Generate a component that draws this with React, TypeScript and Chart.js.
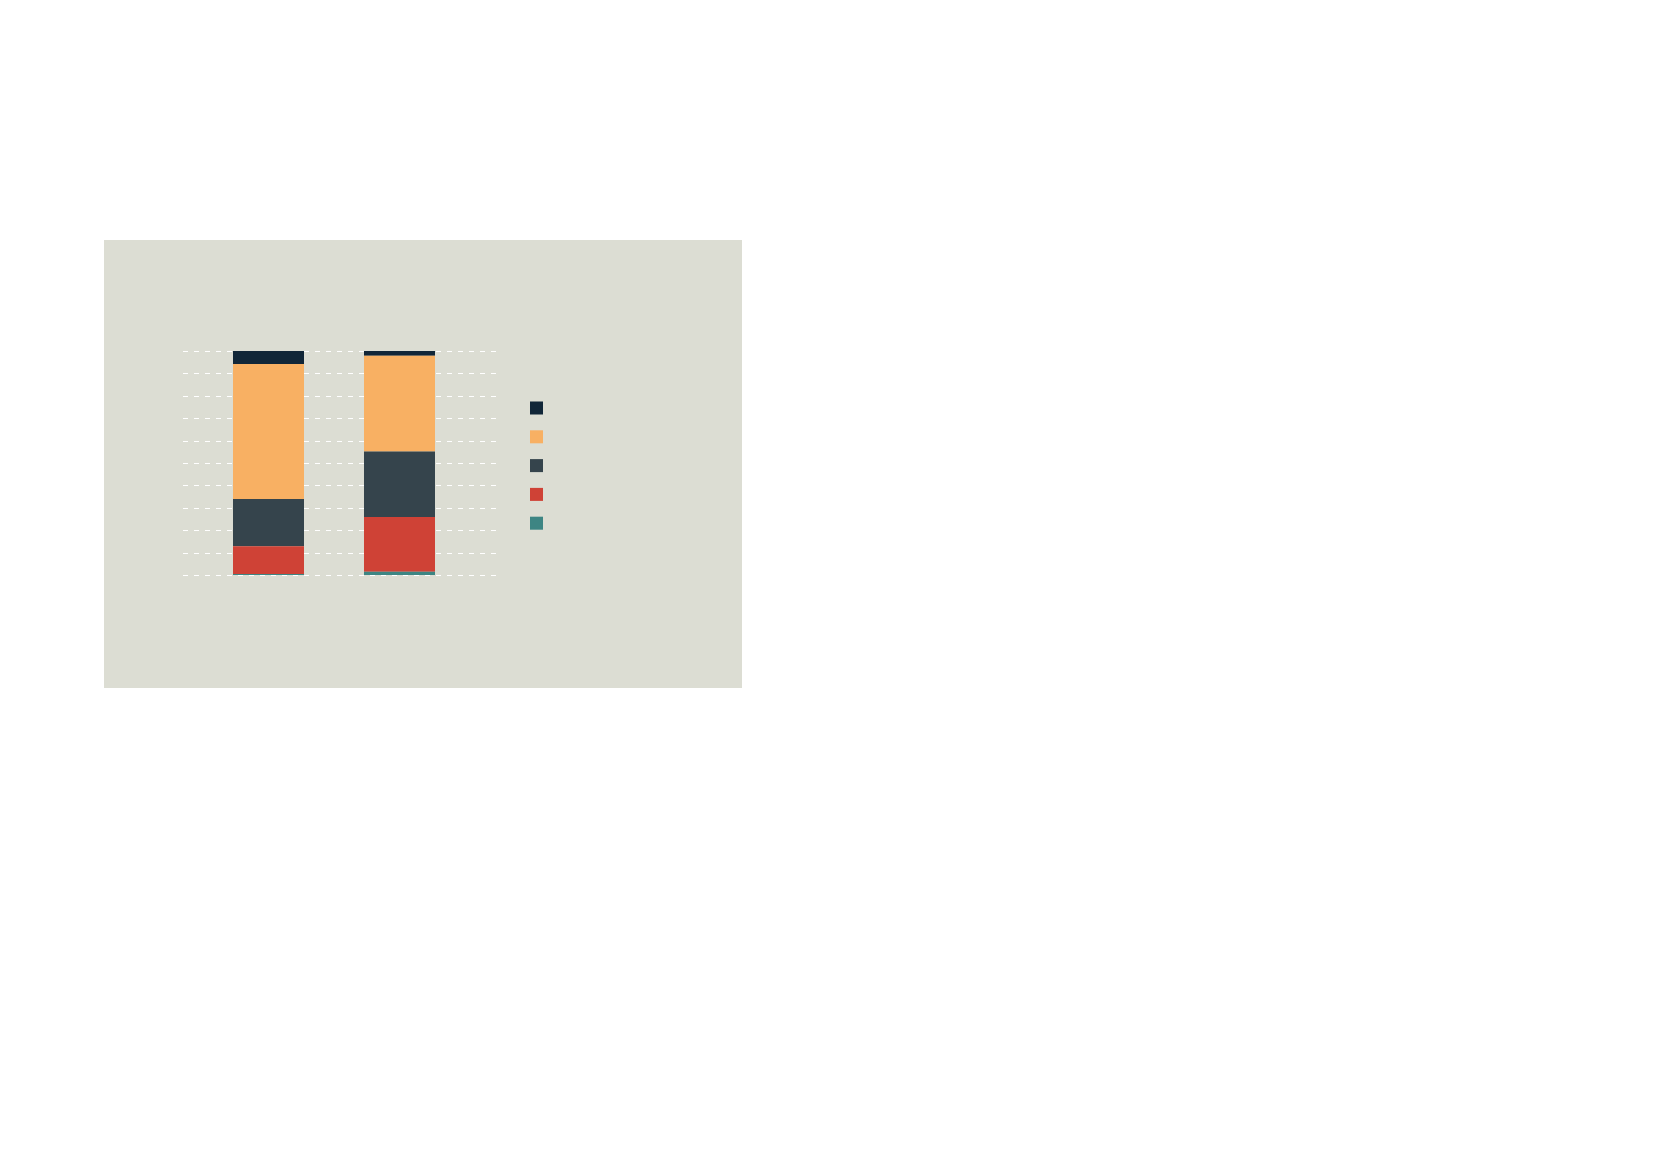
import React, { useEffect, useRef } from "react";
import { Chart, registerables } from "chart.js";

Chart.register(...registerables);

const categories = ["A", "B"];
const seriesNames = ["Teal", "Red", "Slate", "Orange", "Navy"];
const tealValues = [0.5, 1.4];
const redValues = [12.3, 24.5];
const slateValues = [21.1, 29.2];
const orangeValues = [60.3, 42.8];
const navyValues = [5.8, 2.1];
const gridValues = [0, 10, 20, 30, 40, 50, 60, 70, 80, 90, 100];

const colors = ["#3d8583", "#cf4236", "#35444c", "#f8b063", "#112638"];

const gridPlugin = {
  id: "dashedGrid",
  beforeDatasetsDraw(chart: any) {
    const { ctx, chartArea, scales } = chart;
    const y = scales.y;
    ctx.save();
    ctx.strokeStyle = "#ffffff";
    ctx.lineWidth = 1.2;
    ctx.setLineDash([5, 6]);
    gridValues.forEach((v) => {
      const py = Math.round(y.getPixelForValue(v)) + 0.5;
      ctx.beginPath();
      ctx.moveTo(chartArea.left - 20, py);
      ctx.lineTo(chartArea.right + 32, py);
      ctx.stroke();
    });
    ctx.restore();
  },
};

const legendPlugin = {
  id: "squareLegend",
  afterDraw(chart: any) {
    const { ctx, chartArea } = chart;
    const ds = chart.data.datasets;
    ctx.save();
    const n = ds.length;
    for (let i = 0; i < n; i++) {
      const d = ds[n - 1 - i];
      const x = chartArea.right + 65;
      const yy = chartArea.top + 50.5 + i * 28.8;
      ctx.fillStyle = d.backgroundColor;
      ctx.fillRect(x, yy, 13, 13);
    }
    ctx.restore();
  },
};

export default function App() {
  const ref = useRef<HTMLCanvasElement>(null);
  useEffect(() => {
    if (!ref.current) return;
    const all = [tealValues, redValues, slateValues, orangeValues, navyValues];
    const chart = new Chart(ref.current, {
      type: "bar",
      data: {
        labels: categories,
        datasets: all.map((vals, i) => ({
          label: seriesNames[i],
          data: vals,
          backgroundColor: colors[i],
          borderWidth: 0,
          categoryPercentage: 1,
          barPercentage: 0.542,
        })),
      },
      options: {
        animation: false,
        responsive: true,
        maintainAspectRatio: false,
        layout: { padding: { left: 99, right: 277, top: 111, bottom: 113 } },
        plugins: { legend: { display: false }, tooltip: { enabled: false } },
        scales: {
          x: { stacked: true, display: false },
          y: { stacked: true, display: false, min: 0, max: 100 },
        },
      },
      plugins: [gridPlugin, legendPlugin],
    });
    return () => chart.destroy();
  }, []);
  return (
    <div
      style={{
        position: "absolute",
        left: 104,
        top: 240,
        width: 638,
        height: 448,
        background: "#dcddd3",
      }}
    >
      <canvas ref={ref} />
    </div>
  );
}
